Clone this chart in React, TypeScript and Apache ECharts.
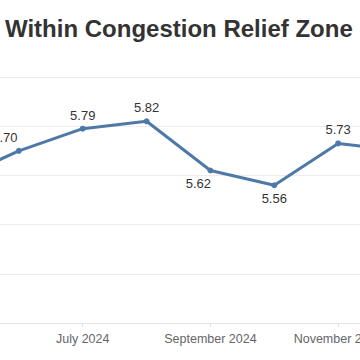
import React, { useEffect, useRef } from "react";
import * as echarts from "echarts";

const titleText = "Within Congestion Relief Zone";
const months = [
  "May 2024",
  "June 2024",
  "July 2024",
  "August 2024",
  "September 2024",
  "October 2024",
  "November 2024",
  "December 2024",
];
const values = [5.58, 5.7, 5.79, 5.82, 5.62, 5.56, 5.73, 5.7];
const yMin = 5.0;
const yMax = 6.0;
const yStep = 0.2;

export default function App() {
  const ref = useRef<HTMLDivElement>(null);
  useEffect(() => {
    if (!ref.current) return;
    const chart = echarts.init(ref.current, undefined, { renderer: "svg" });
    const labelFont = { fontFamily: "'Liberation Sans', Arial, sans-serif" };
    const data = values.map((v, i) => {
      const item: any = { value: v };
      if (i === 1) item.label = { offset: [-14, 0] };
      if (i === 4) item.label = { position: "bottom", offset: [-12, 0] };
      if (i === 5) item.label = { position: "bottom" };
      return item;
    });
    chart.setOption({
      animation: false,
      backgroundColor: "#ffffff",
      title: {
        text: titleText,
        left: 0,
        top: 11,
        textStyle: {
          fontSize: 24,
          fontWeight: "bold",
          color: "#333333",
          fontFamily: "'Liberation Sans', Arial, sans-serif",
        },
      },
      grid: {
        left: -45,
        right: -42,
        top: 77,
        bottom: 37,
        containLabel: false,
        outerBoundsMode: "none",
      },
      xAxis: {
        type: "category",
        data: months,
        boundaryGap: false,
        axisLine: { show: true, lineStyle: { color: "#e6e6e6", width: 1 } },
        axisTick: { show: true, length: 4, lineStyle: { color: "#e0e0e0" } },
        axisLabel: {
          interval: (idx: number) => idx % 2 === 0,
          color: "#666666",
          fontSize: 12.5,
          margin: 9,
          ...labelFont,
        },
        splitLine: { show: false },
      },
      yAxis: {
        type: "value",
        min: yMin,
        max: yMax,
        interval: yStep,
        axisLabel: { show: false },
        axisLine: { show: false },
        axisTick: { show: false },
        splitLine: { show: true, lineStyle: { color: "#ececec", width: 1 } },
      },
      series: [
        {
          type: "line",
          data,
          clip: false,
          symbol: "circle",
          symbolSize: 6,
          lineStyle: { color: "#4e79a7", width: 3 },
          itemStyle: { color: "#4e79a7" },
          label: {
            show: true,
            position: "top",
            distance: 4,
            color: "#333333",
            fontSize: 13,
            formatter: (p: any) => Number(p.value).toFixed(2),
            ...labelFont,
          },
        },
      ],
    });
    return () => chart.dispose();
  }, []);
  return (
    <div
      ref={ref}
      style={{ position: "absolute", left: 0, top: 0, width: 360, height: 360 }}
    />
  );
}
